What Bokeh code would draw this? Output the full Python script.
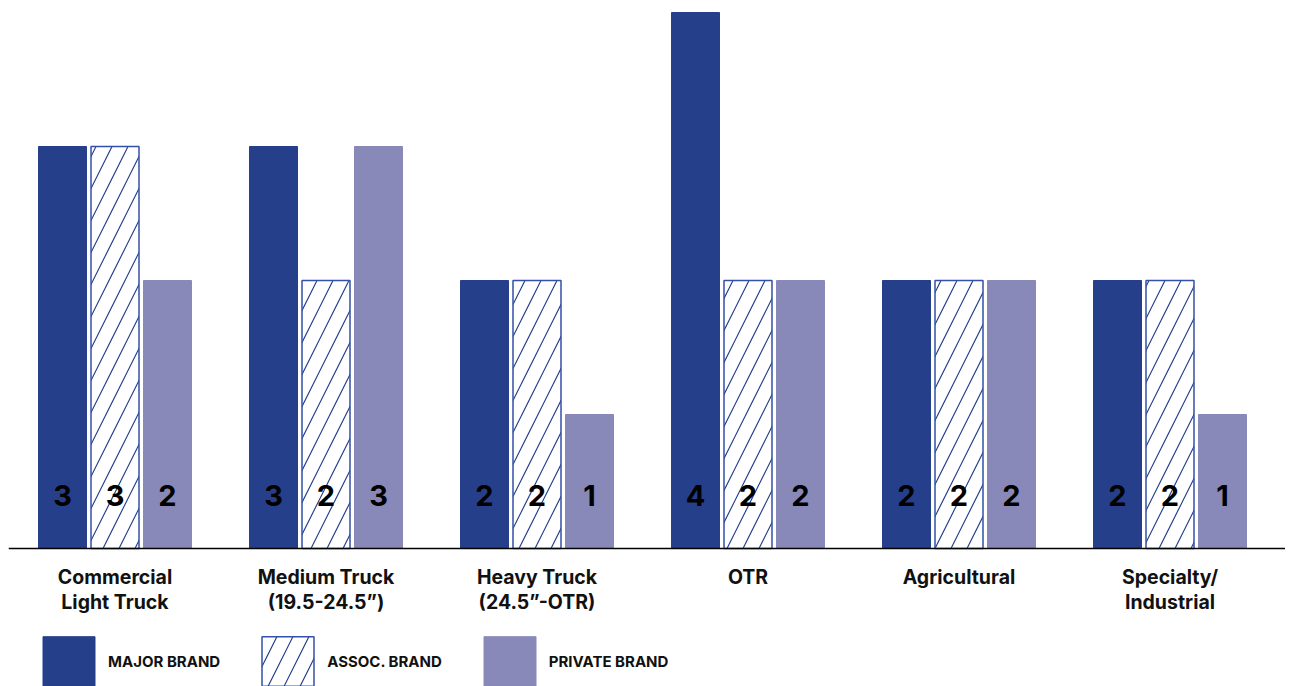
from bokeh.plotting import figure
from bokeh.models import ColumnDataSource, Span, Range1d, Legend, LegendItem
from bokeh.core.properties import value
from bokeh.embed import file_html
from bokeh.resources import INLINE

categories = ["Commercial\nLight Truck", "Medium Truck\n(19.5-24.5\u201d)", "Heavy Truck\n(24.5\u201d-OTR)",
              "OTR", "Agricultural", "Specialty/\nIndustrial"]
major = [3, 3, 2, 4, 2, 2]
assoc = [3, 2, 2, 2, 2, 2]
private = [2, 3, 1, 2, 2, 1]
series_names = ["MAJOR BRAND", "ASSOC. BRAND", "PRIVATE BRAND"]

MAJOR_C = "#253f8b"
PRIV_C = "#8889b9"
FONT = "Inter"

W, H = 1285, 686
LEFT = 8
FW = W - LEFT
PX_PER_GROUP = 211.0
PX_PER_UNIT = 134.0
BASE = 548.0
x0 = -106.5 / PX_PER_GROUP
y_top = BASE / PX_PER_UNIT
y_bot = -(H - BASE) / PX_PER_UNIT

p = figure(width=W, height=H, output_backend="svg", toolbar_location=None,
           x_range=Range1d(x0, x0 + FW / PX_PER_GROUP), y_range=Range1d(y_bot, y_top),
           min_border=0, min_border_left=LEFT, outline_line_color=None)
p.axis.visible = False
p.grid.visible = False
p.background_fill_color = "white"

idx = list(range(len(categories)))
off = 52.5 / PX_PER_GROUP
bw = 48.0 / PX_PER_GROUP

src = ColumnDataSource(dict(
    x=idx, major=major, assoc=assoc, private=private,
    xm=[i - off for i in idx], xp=[i + off for i in idx],
    lm=[str(v) for v in major], la=[str(v) for v in assoc], lp=[str(v) for v in private],
    cat=categories,
))

r1 = p.vbar(x="xm", top="major", width=bw, bottom=0, source=src,
            fill_color=MAJOR_C, line_color=MAJOR_C, line_width=1)
r2 = p.vbar(x="x", top="assoc", width=bw, bottom=0, source=src,
            fill_color="white", line_color="#3550a8", line_width=1.5,
            hatch_pattern="/", hatch_color=MAJOR_C, hatch_scale=32, hatch_weight=1.2)
r3 = p.vbar(x="xp", top="private", width=bw, bottom=0, source=src,
            fill_color=PRIV_C, line_color=PRIV_C, line_width=1)

p.add_layout(Span(location=0, dimension="width", line_color="black", line_width=1.5))

for xcol, lcol in (("xm", "lm"), ("x", "la"), ("xp", "lp")):
    p.text(x=xcol, y=0, text=lcol, source=src, text_font=value(FONT), text_font_style="bold",
           text_font_size="29px", text_color="black", text_align="center",
           text_baseline="middle", y_offset=-53)

p.text(x="x", y=0, text="cat", source=src, text_font=value(FONT), text_font_style="bold",
       text_font_size="19.5px", text_color="#111111", text_align="center",
       text_baseline="top", y_offset=16, text_line_height=1.05)

legend = Legend(items=[LegendItem(label=series_names[0], renderers=[r1]),
                       LegendItem(label=series_names[1], renderers=[r2]),
                       LegendItem(label=series_names[2], renderers=[r3])],
                orientation="horizontal", location=(28, -6),
                glyph_width=65, glyph_height=62, label_standoff=7, spacing=35,
                padding=0, margin=0, border_line_color=None, background_fill_alpha=0,
                label_text_font=FONT, label_text_font_style="bold",
                label_text_font_size="15px", label_text_color="#111111",
                label_height=62)
p.add_layout(legend)

open("out.html", "w").write(file_html(p, INLINE))
